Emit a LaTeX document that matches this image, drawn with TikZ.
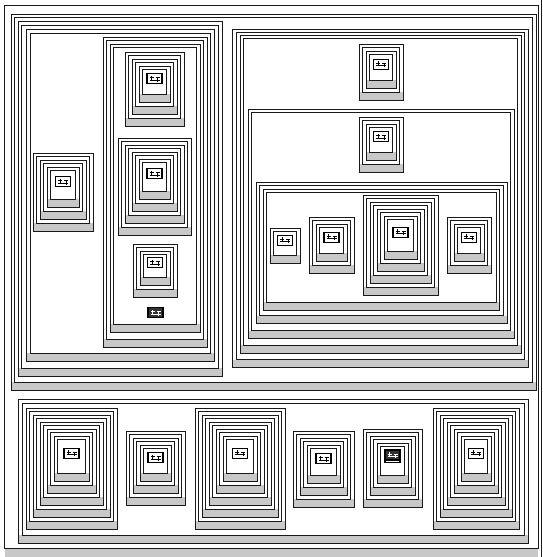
\documentclass[tikz,border=0pt]{standalone}
\usepackage{tikz}
\definecolor{barc}{RGB}{200,200,200}
\tikzset{ln/.style={draw=black!90,line width=1pt}}
\newcommand{\nd}[4]{%
  \fill[barc] ({#1},{#4-8}) rectangle ({#3},{#4});
  \draw[ln] ({#1},{#2}) rectangle ({#3},{#4});
  \draw[ln] ({#1+3.5},{#2+3.5}) rectangle ({#3-3.5},{#4-8});
}
\newcommand{\icn}[2]{%
  \draw[line width=1.4pt,fill=white] ({#1-7.5},{#2-5}) rectangle ({#1+7.5},{#2+5});
  \draw[line width=0.7pt] ({#1-5},{#2-1}) -- ({#1-1},{#2-1}) ({#1+1},{#2-1}) -- ({#1+5},{#2-1})
    ({#1-5},{#2+1.5}) -- ({#1+5},{#2+1.5}) ({#1-3},{#2-3}) -- ({#1-3},{#2+1.5}) ({#1+3},{#2-1}) -- ({#1+3},{#2+3});
}
\newcommand{\dicn}[2]{%
  \draw[line width=1.2pt,fill=black!80] ({#1-7.5},{#2-5}) rectangle ({#1+7.5},{#2+5});
  \draw[white,line width=0.7pt] ({#1-5},{#2-1}) -- ({#1-1},{#2-1}) ({#1+1},{#2-1}) -- ({#1+5},{#2-1})
    ({#1-5},{#2+1.5}) -- ({#1+5},{#2+1.5}) ({#1-3},{#2-3}) -- ({#1-3},{#2+1.5}) ({#1+3},{#2-1}) -- ({#1+3},{#2+3});
}
\newcommand{\stk}[5]{%
  \foreach \i in {1,...,#5}{%
    \pgfmathsetmacro{\ax}{#1+7*(\i-1)}%
    \pgfmathsetmacro{\ay}{#2+7*(\i-1)}%
    \pgfmathsetmacro{\bx}{#3-7*(\i-1)}%
    \pgfmathsetmacro{\by}{#4-12*(\i-1)}%
    \nd{\ax}{\ay}{\bx}{\by}
  }
  \pgfmathsetmacro{\cx}{(#1+#3)/2}%
  \pgfmathsetmacro{\cy}{(#2+7*(#5-1)+3.5+#4-12*(#5-1)-8)/2-3}%
  \icn{\cx}{\cy}
}
\begin{document}
\begin{tikzpicture}[x=1pt,y=-1pt]
\useasboundingbox (0,0) rectangle (543,557);
% root
\fill[barc] (4.5,548) rectangle (538,559);
\draw[ln] (-2,-2) rectangle (541.5,559);
\draw[ln] (4.5,5.5) rectangle (538,548);
% top frame
\nd{11}{14}{536}{390}
% left part
\nd{18}{21.5}{222}{376}
\nd{26.5}{29.5}{214}{361}
\stk{33}{153}{93}{231}{3}
\nd{103}{37}{207}{347}
\nd{110}{44}{200}{332}
\stk{125}{52}{184}{126}{3}
\stk{118}{138}{191}{235}{4}
\stk{133}{244}{177}{297}{2}
\dicn{155.5}{312.5}
% right part
\nd{232.5}{29}{528}{367.5}
\nd{240}{35}{521}{353}
\stk{359}{44}{403}{100}{2}
\nd{248}{109}{514}{338.5}
\stk{359}{117}{403}{172}{2}
\nd{256}{182}{507}{323.5}
\nd{263}{189}{499.5}{310}
\stk{270}{228}{300}{263}{1}
\stk{309}{217}{354}{273}{2}
\stk{363}{195}{438}{295}{4}
\stk{447}{217}{491}{273}{2}
% bottom frame
\nd{18.5}{399.5}{528}{543}
\stk{26}{408}{117}{529}{5}
\stk{126}{431}{185}{505}{3}
\stk{195}{408}{285}{529}{5}
\stk{293}{431}{354}{507}{3}
\stk{363}{429}{422}{507}{3}
\dicn{392.5}{455}
\stk{433}{408}{519}{529}{5}
\end{tikzpicture}
\end{document}
